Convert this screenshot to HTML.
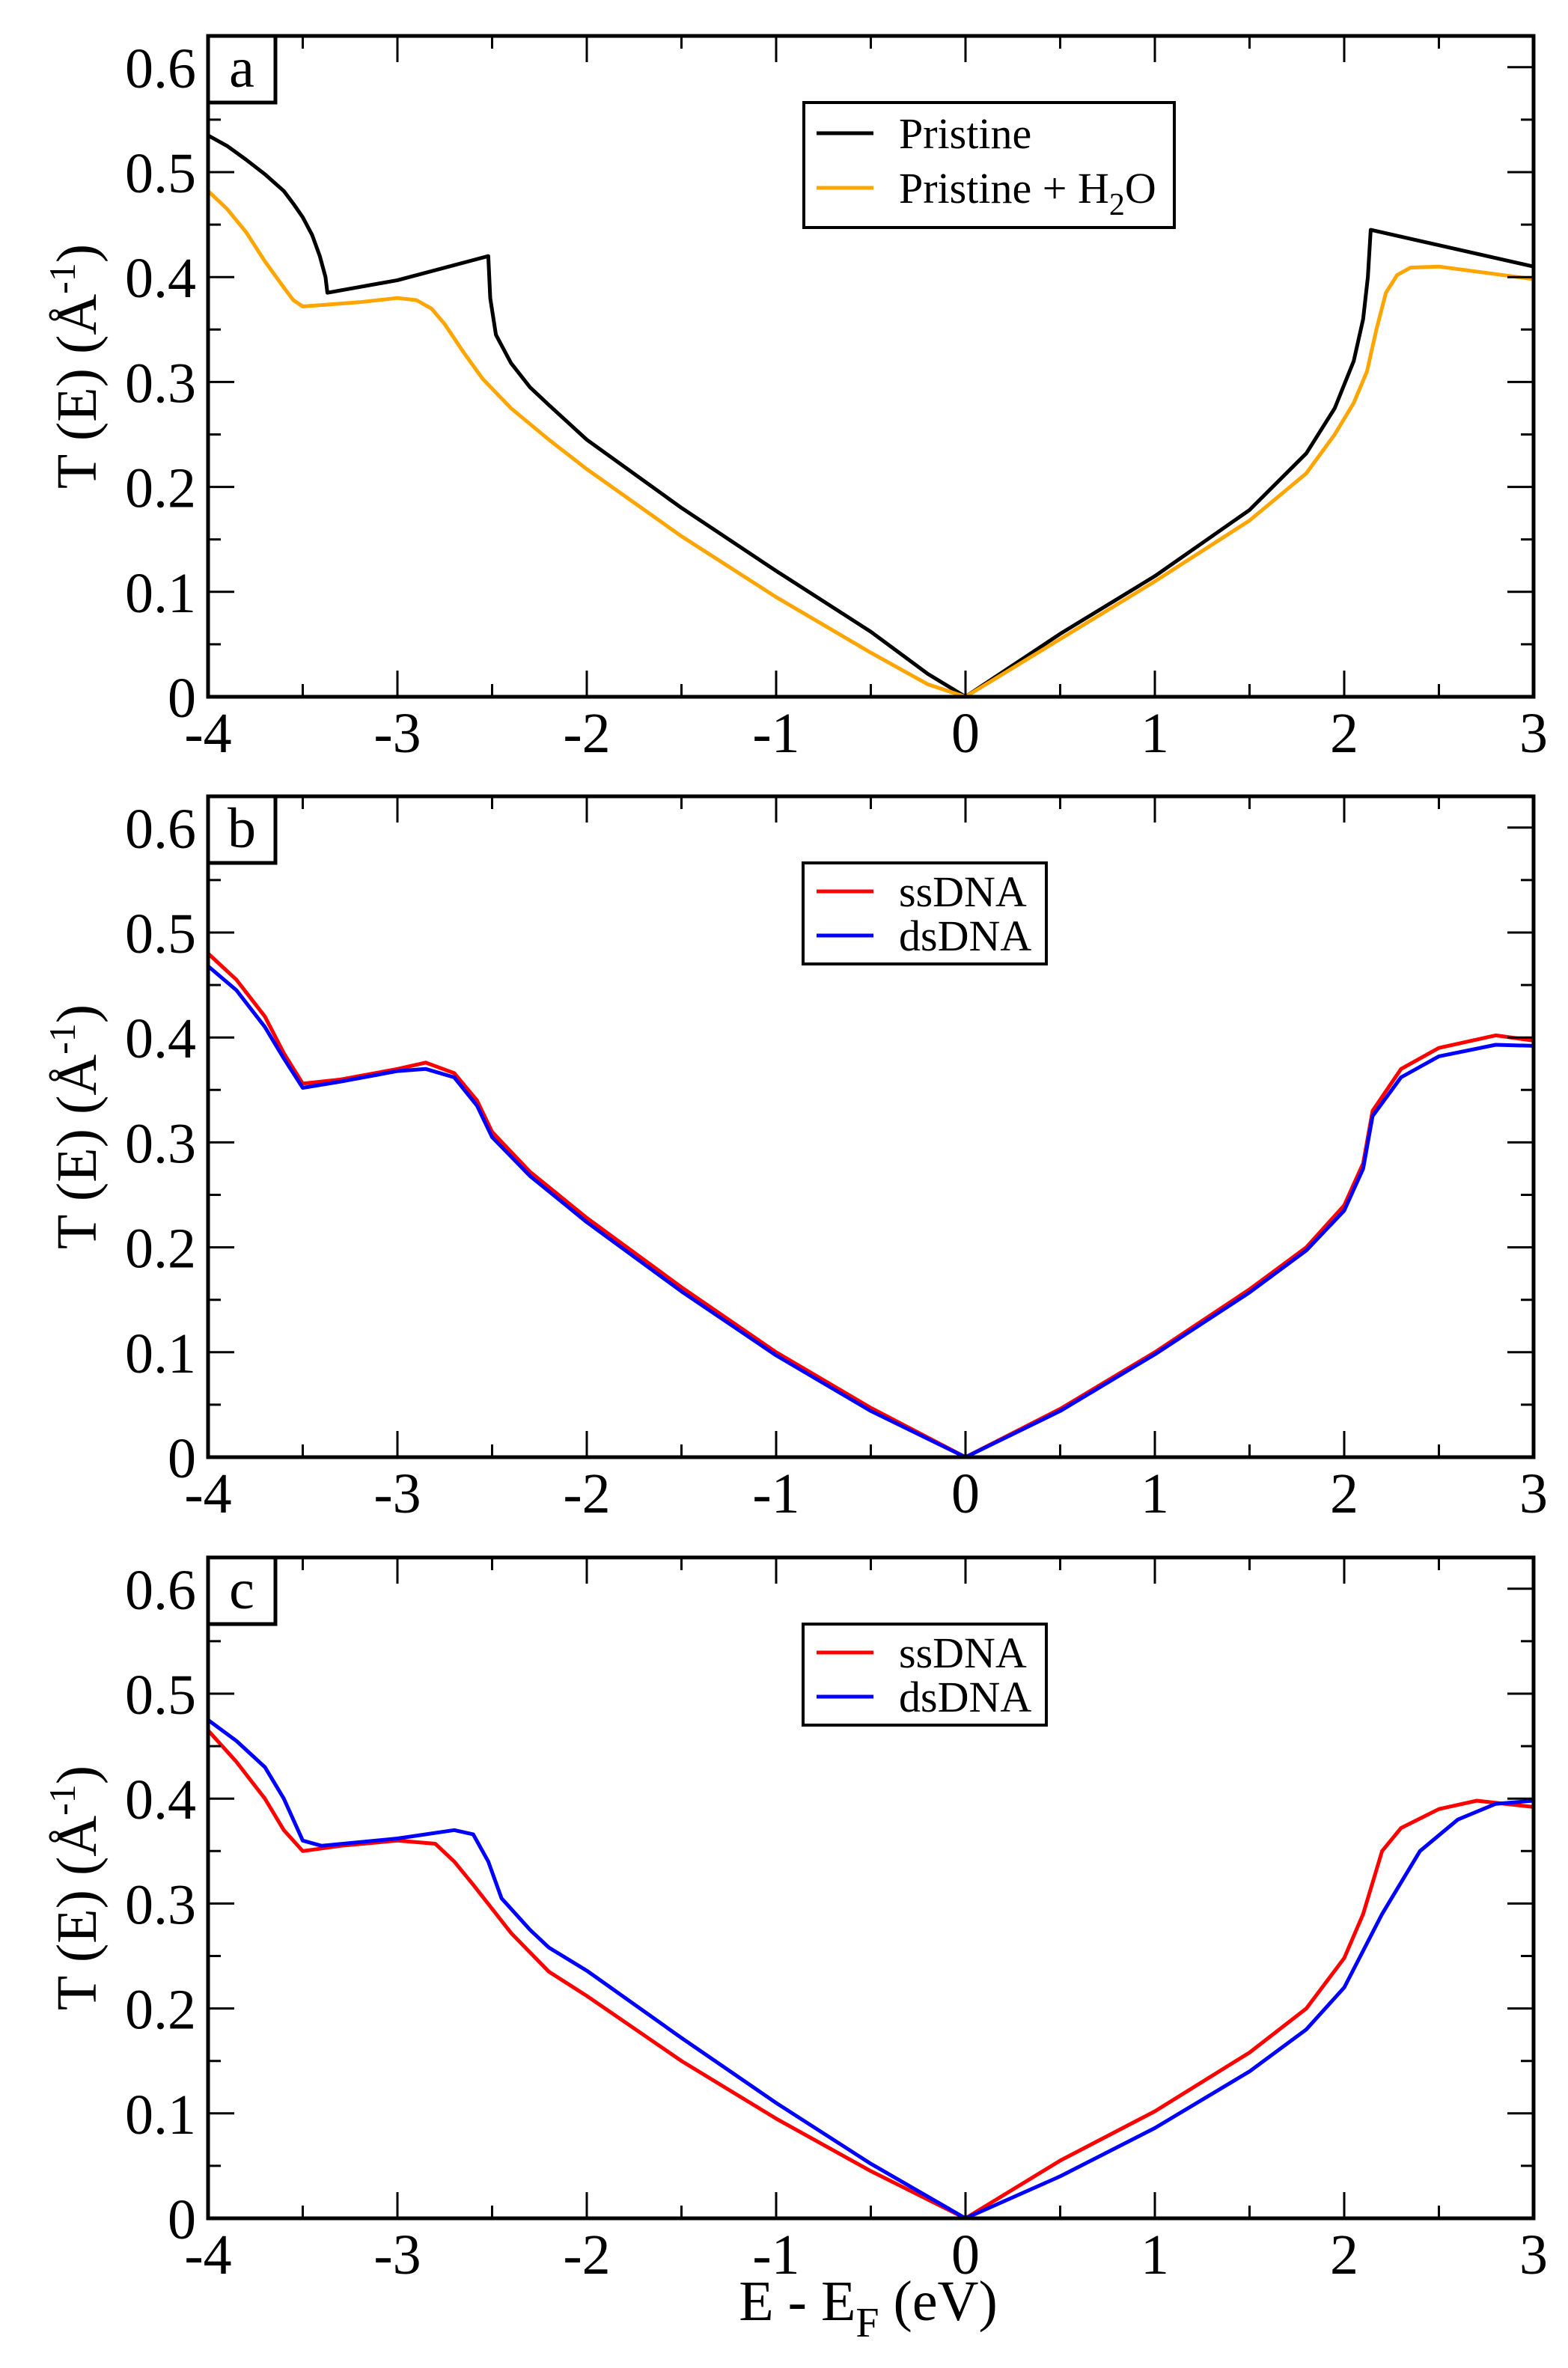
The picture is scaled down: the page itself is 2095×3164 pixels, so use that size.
<!DOCTYPE html>
<html><head><meta charset="utf-8"><style>
html,body{margin:0;padding:0;background:#fff;}
svg{display:block;}
text{font-family:"Liberation Serif","DejaVu Serif",serif;}
</style></head><body>
<svg id="s" width="2095" height="3164" viewBox="0 0 2095 3164" xmlns="http://www.w3.org/2000/svg" font-family="Liberation Serif, serif"></svg>
<script>
const X0=278,XU=253,ZERO=X0+4*XU,X1=ZERO+3*XU;
const H=883,YU=1402;
const tops=[48,1064,2081];
const S=document.getElementById('s');
let out='';
function px(x){return ZERO+x*XU;}
const data=[
 [ ['#000',[[-4,.535],[-3.9,.525],[-3.8,.512],[-3.7,.498],[-3.6,.482],[-3.55,.47],[-3.5,.457],[-3.45,.44],[-3.41,.42],[-3.38,.4],[-3.37,.385],[-3.0,.397],[-2.52,.42],[-2.51,.38],[-2.48,.345],[-2.4,.318],[-2.3,.295],[-2.2,.278],[-2,.245],[-1.5,.18],[-1,.12],[-0.5,.062],[-0.2,.022],[0,0],[0.5,.06],[1,.115],[1.5,.178],[1.8,.232],[1.95,.275],[2.05,.32],[2.1,.36],[2.125,.4],[2.14,.445],[3,.41]]],
   ['#ffa500',[[-4,.482],[-3.9,.465],[-3.8,.443],[-3.7,.415],[-3.6,.39],[-3.55,.378],[-3.5,.372],[-3.2,.376],[-3.0,.38],[-2.9,.378],[-2.82,.37],[-2.75,.355],[-2.65,.328],[-2.55,.303],[-2.4,.275],[-2.2,.245],[-2,.217],[-1.5,.153],[-1,.095],[-0.5,.042],[-0.2,.012],[0,0],[0.5,.055],[1,.11],[1.5,.168],[1.8,.213],[1.95,.25],[2.05,.28],[2.12,.31],[2.17,.35],[2.22,.385],[2.28,.402],[2.35,.409],[2.5,.41],[3,.398]]] ],
 [ ['#ff0000',[[-4,.48],[-3.85,.455],[-3.7,.42],[-3.6,.385],[-3.5,.356],[-3.3,.36],[-3,.37],[-2.85,.376],[-2.7,.366],[-2.58,.34],[-2.5,.31],[-2.3,.272],[-2,.228],[-1.5,.162],[-1,.1],[-0.5,.047],[0,0],[0.5,.046],[1,.1],[1.5,.16],[1.8,.2],[2.0,.24],[2.1,.28],[2.15,.33],[2.3,.37],[2.5,.39],[2.8,.402],[3,.397]]],
   ['#0000ff',[[-4,.468],[-3.85,.445],[-3.7,.41],[-3.6,.38],[-3.5,.352],[-3.3,.358],[-3,.368],[-2.85,.37],[-2.7,.362],[-2.58,.335],[-2.5,.305],[-2.3,.268],[-2,.224],[-1.5,.158],[-1,.097],[-0.5,.044],[0,0],[0.5,.044],[1,.098],[1.5,.157],[1.8,.197],[2.0,.235],[2.1,.275],[2.15,.325],[2.3,.362],[2.5,.382],[2.8,.393],[3,.392]]] ],
 [ ['#ff0000',[[-4,.465],[-3.85,.435],[-3.7,.40],[-3.6,.37],[-3.5,.35],[-3.3,.355],[-3,.36],[-2.8,.357],[-2.7,.34],[-2.6,.318],[-2.4,.272],[-2.2,.235],[-2,.212],[-1.5,.15],[-1,.095],[-0.5,.045],[0,0],[0.5,.055],[1,.102],[1.5,.158],[1.8,.2],[2.0,.248],[2.1,.29],[2.2,.35],[2.3,.372],[2.5,.39],[2.7,.398],[3,.392]]],
   ['#0000ff',[[-4,.475],[-3.85,.455],[-3.7,.43],[-3.6,.40],[-3.5,.36],[-3.4,.355],[-3,.362],[-2.7,.37],[-2.6,.366],[-2.52,.34],[-2.45,.305],[-2.3,.275],[-2.2,.258],[-2,.236],[-1.5,.172],[-1,.11],[-0.5,.052],[0,0],[0.5,.04],[1,.086],[1.5,.14],[1.8,.18],[2.0,.22],[2.2,.29],[2.4,.35],[2.6,.38],[2.8,.395],[3,.398]]] ]
];
const legends=[
 {box:[1074,137,495,167],items:[['#000','Pristine'],['#ffa500','Pristine + H<tspan baseline-shift="-16" font-size="42">2</tspan>O']],ys:[178,251]},
 {box:[1073,1153,325,135],items:[['#ff0000','ssDNA'],['#0000ff','dsDNA']],ys:[1191,1250]},
 {box:[1073,2170,325,135],items:[['#ff0000','ssDNA'],['#0000ff','dsDNA']],ys:[2208,2267]}
];
const labels=['a','b','c'];
tops.forEach((T,i)=>{
 const B=T+H;
 const py=y=>B-y*YU;
 data[i].forEach(([c,pts])=>{
  out+=`<polyline fill="none" stroke="${c}" stroke-width="5" stroke-linejoin="round" points="${pts.map(p=>px(p[0]).toFixed(1)+','+py(p[1]).toFixed(1)).join(' ')}"/>`;
 });
 for(let k=-8;k<=6;k++){const x=px(k/2);const L=(k%2==0)?35:17;
  out+=`<line x1="${x}" y1="${B}" x2="${x}" y2="${B-L}" stroke="#000" stroke-width="3"/><line x1="${x}" y1="${T}" x2="${x}" y2="${T+L}" stroke="#000" stroke-width="3"/>`;
  if(k%2==0) out+=`<text x="${x}" y="${B+74}" font-size="76" text-anchor="middle">${k/2<0?'-'+(-k/2):k/2}</text>`;
 }
 for(let k=0;k<=12;k++){const y=py(k*0.05);const L=(k%2==0)?35:17;
  out+=`<line x1="${X0}" y1="${y}" x2="${X0+L}" y2="${y}" stroke="#000" stroke-width="3"/><line x1="${X1}" y1="${y}" x2="${X1-L}" y2="${y}" stroke="#000" stroke-width="3"/>`;
  if(k%2==0){const v=k*0.05;out+=`<text x="${X0-16}" y="${y+27}" font-size="76" text-anchor="end">${k==0?'0':v.toFixed(1)}</text>`;}
 }
 out+=`<rect x="${X0}" y="${T}" width="${X1-X0}" height="${H}" fill="none" stroke="#000" stroke-width="5"/>`;
 out+=`<rect x="${X0}" y="${T}" width="90" height="89" fill="#fff" stroke="#000" stroke-width="5"/><text x="${X0+45}" y="${T+68}" font-size="76" text-anchor="middle">${labels[i]}</text>`;
 const lg=legends[i];const b=lg.box;
 out+=`<rect x="${b[0]}" y="${b[1]}" width="${b[2]}" height="${b[3]}" fill="#fff" stroke="#000" stroke-width="4"/>`;
 lg.items.forEach((it,j)=>{const y=lg.ys[j];
  out+=`<line x1="1091" y1="${y}" x2="1167" y2="${y}" stroke="${it[0]}" stroke-width="5"/><text x="1201" y="${y+20}" font-size="58">${it[1]}</text>`;});
 const cy=(T+B)/2;
 out+=`<text transform="translate(128,${cy}) rotate(-90)" font-size="76" text-anchor="middle">T (E) (Å<tspan baseline-shift="super" font-size="50">-1</tspan>)</text>`;
});
out+=`<text x="1160" y="3100" font-size="76" text-anchor="middle">E - E<tspan baseline-shift="-22" font-size="56">F</tspan> (eV)</text>`;
S.innerHTML=out;
</script>
</body></html>
